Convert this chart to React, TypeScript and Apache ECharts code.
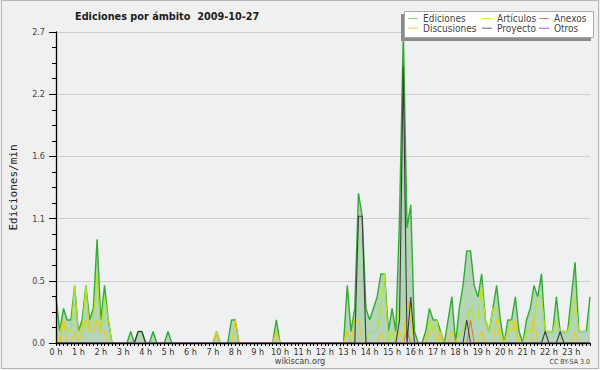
import React, { useEffect, useRef } from "react";
import * as echarts from "echarts";

// 10-minute slots, 0:00 .. 23:50
const times: string[] = [];
for (let h = 0; h < 24; h++) {
  for (let m = 0; m < 60; m += 10) times.push(`${h}:${m < 10 ? "0" + m : m}`);
}

// Ediciones (total), edits/min, one row per hour (6 x 10 min)
const ediciones = [
  0.4, 0.1, 0.3, 0.2, 0.2, 0.5,
  0.1, 0.2, 0.5, 0.2, 0.3, 0.9,
  0.2, 0.5, 0.2, 0, 0, 0,
  0, 0, 0.1, 0, 0.1, 0.1,
  0, 0, 0.1, 0, 0, 0,
  0.1, 0, 0, 0, 0, 0,
  0, 0, 0, 0, 0, 0,
  0, 0.1, 0, 0, 0, 0.2,
  0.2, 0, 0, 0, 0, 0,
  0, 0, 0, 0, 0, 0.2,
  0, 0, 0, 0, 0, 0,
  0, 0, 0, 0, 0, 0,
  0, 0, 0, 0, 0, 0,
  0.5, 0.1, 0.3, 1.3, 1.1, 0.3,
  0.2, 0.3, 0.4, 0.6, 0.6, 0.1,
  0.3, 0.1, 1.1, 2.7, 1.0, 1.2,
  0.1, 0, 0, 0.1, 0.3, 0.2,
  0.2, 0.1, 0, 0.2, 0.4, 0,
  0.3, 0.5, 0.8, 0.8, 0.5, 0.4,
  0.6, 0.2, 0.1, 0.3, 0.5, 0.2,
  0, 0.2, 0.2, 0.4, 0.1, 0,
  0.2, 0.3, 0.5, 0.4, 0.6, 0.1,
  0.1, 0.1, 0.4, 0.1, 0.1, 0.1,
  0.4, 0.7, 0.1, 0.1, 0.1, 0.4,
];

const articulos = [
  0.1, 0.1, 0.2, 0.1, 0.1, 0.5,
  0.1, 0.1, 0.5, 0.1, 0.2, 0.6,
  0.1, 0.4, 0.2, 0, 0, 0,
  0, 0, 0, 0, 0, 0,
  0, 0, 0, 0, 0, 0,
  0, 0, 0, 0, 0, 0,
  0, 0, 0, 0, 0, 0,
  0, 0.1, 0, 0, 0, 0,
  0, 0, 0, 0, 0, 0,
  0, 0, 0, 0, 0, 0.1,
  0, 0, 0, 0, 0, 0,
  0, 0, 0, 0, 0, 0,
  0, 0, 0, 0, 0, 0,
  0.1, 0, 0, 0, 0, 0,
  0.1, 0.1, 0.1, 0.3, 0.6, 0,
  0.1, 0, 0.3, 0.3, 0.3, 0.3,
  0, 0, 0, 0, 0.2, 0.1,
  0.2, 0, 0, 0, 0, 0,
  0.1, 0.1, 0.2, 0.3, 0.2, 0.2,
  0.5, 0.2, 0.1, 0.3, 0.3, 0.1,
  0, 0.1, 0.2, 0.1, 0, 0,
  0.1, 0.1, 0.2, 0.4, 0.4, 0.1,
  0.1, 0.1, 0.2, 0.1, 0.1, 0.1,
  0.2, 0.4, 0.1, 0.1, 0.1, 0.1,
];

const anexos = [
  0, 0, 0, 0, 0, 0,
  0, 0, 0, 0, 0, 0,
  0, 0, 0, 0, 0, 0,
  0, 0, 0, 0, 0, 0,
  0, 0, 0, 0, 0, 0,
  0, 0, 0, 0, 0, 0,
  0, 0, 0, 0, 0, 0,
  0, 0, 0, 0, 0, 0,
  0, 0, 0, 0, 0, 0,
  0, 0, 0, 0, 0, 0,
  0, 0, 0, 0, 0, 0,
  0, 0, 0, 0, 0, 0,
  0, 0, 0, 0, 0, 0,
  0, 0, 0, 0, 0, 0,
  0, 0, 0, 0, 0, 0,
  0, 0, 0, 0, 0.1, 0,
  0, 0, 0, 0, 0, 0,
  0, 0, 0, 0, 0, 0,
  0, 0, 0, 0.2, 0, 0,
  0, 0, 0, 0, 0, 0,
  0, 0, 0, 0, 0, 0,
  0, 0, 0, 0, 0, 0,
  0, 0, 0, 0, 0, 0,
  0, 0, 0, 0, 0, 0,
];

const discusiones = [
  0.1, 0, 0.2, 0, 0, 0.1,
  0, 0.1, 0.2, 0.1, 0.1, 0.2,
  0.1, 0.1, 0, 0, 0, 0,
  0, 0, 0, 0, 0, 0,
  0, 0, 0, 0, 0, 0,
  0, 0, 0, 0, 0, 0,
  0, 0, 0, 0, 0, 0,
  0, 0.1, 0, 0, 0, 0,
  0.2, 0, 0, 0, 0, 0,
  0, 0, 0, 0, 0, 0.1,
  0, 0, 0, 0, 0, 0,
  0, 0, 0, 0, 0, 0,
  0, 0, 0, 0, 0, 0,
  0.1, 0, 0.2, 0.2, 0, 0,
  0, 0, 0, 0.1, 0, 0,
  0, 0, 0.1, 0, 0.4, 0.2,
  0, 0, 0, 0, 0.1, 0.1,
  0, 0.1, 0, 0, 0.1, 0,
  0, 0, 0, 0, 0, 0,
  0.1, 0, 0, 0, 0.2, 0,
  0, 0.1, 0.1, 0.2, 0, 0,
  0, 0, 0.2, 0, 0, 0,
  0, 0, 0, 0, 0, 0,
  0, 0.1, 0, 0, 0, 0,
];

const proyecto = [
  0, 0, 0, 0, 0, 0,
  0, 0, 0, 0, 0, 0,
  0, 0, 0, 0, 0, 0,
  0, 0, 0, 0, 0.1, 0.1,
  0, 0, 0, 0, 0, 0,
  0, 0, 0, 0, 0, 0,
  0, 0, 0, 0, 0, 0,
  0, 0, 0, 0, 0, 0,
  0, 0, 0, 0, 0, 0,
  0, 0, 0, 0, 0, 0,
  0, 0, 0, 0, 0, 0,
  0, 0, 0, 0, 0, 0,
  0, 0, 0, 0, 0, 0,
  0, 0, 0, 1.1, 1.1, 0,
  0, 0, 0, 0, 0, 0,
  0, 0, 0.2, 2.4, 0, 0.4,
  0, 0, 0, 0, 0, 0,
  0, 0, 0, 0, 0, 0,
  0, 0, 0.2, 0, 0, 0,
  0, 0, 0, 0, 0, 0,
  0, 0, 0, 0, 0, 0,
  0, 0, 0, 0, 0, 0.1,
  0, 0, 0, 0.1, 0, 0,
  0, 0, 0, 0, 0, 0,
];

const otros = new Array(144).fill(0);

const yTicks = { min: 0, max: 2.7, step: 0.54 };

const COND = "'DejaVu Sans Condensed', 'DejaVu Sans', sans-serif";

export default function App() {
  const ref = useRef<HTMLDivElement>(null);

  useEffect(() => {
    document.body.style.margin = "0";
    const chart = echarts.init(ref.current!, null, { renderer: "svg" });

    const legendItems = [
      { name: "Ediciones", color: "#80d080", left: 408, top: 13.5 },
      { name: "Artículos", color: "#c4ee3a", left: 482, top: 13.5 },
      { name: "Anexos", color: "#f08050", left: 539, top: 13.5 },
      { name: "Discusiones", color: "#f6d040", left: 408, top: 23.2 },
      { name: "Proyecto", color: "#606060", left: 482, top: 23.2 },
      { name: "Otros", color: "#a050f0", left: 539, top: 23.2 },
    ];

    const lineSeries = (name: string, data: number[], color: string, z: number, width = 1.1) => ({
      name,
      type: "line",
      data,
      symbol: "none",
      showSymbol: false,
      silent: true,
      z,
      lineStyle: { color, width },
      itemStyle: { color },
    });

    const option: any = {
      animation: false,
      backgroundColor: "#f0f0f0",
      textStyle: { fontFamily: COND },
      title: {
        text: "Ediciones por ámbito  2009-10-27",
        left: 75,
        top: 11,
        padding: 0,
        textStyle: { fontFamily: COND, fontWeight: "bold", fontSize: 10.8, color: "#1c1c1c" },
      },
      grid: {
        left: 46,
        right: 10,
        top: 32,
        bottom: 27,
        show: true,
        backgroundColor: "#eef0f2",
        borderWidth: 0,
      },
      legend: legendItems.map((it) => ({
        data: [{ name: it.name, itemStyle: { color: it.color } }],
        left: it.left,
        top: it.top,
        padding: 0,
        icon: "rect",
        itemWidth: 10,
        itemHeight: 1,
        selectedMode: false,
        z: 6,
        textStyle: { fontFamily: COND, fontSize: 10, color: "#444" },
      })),
      xAxis: {
        type: "category",
        data: times,
        boundaryGap: false,
        z: 10,
        axisLine: { lineStyle: { color: "#000", width: 1.3 } },
        axisTick: { interval: 0, length: 3, lineStyle: { color: "#000" } },
        axisLabel: {
          interval: 5,
          formatter: (_v: string, i: number) => `${i / 6} h`,
          fontSize: 9,
          color: "#333",
          margin: 4,
          fontFamily: COND,
        },
        splitLine: { show: false },
      },
      yAxis: [
        {
          type: "value",
          min: yTicks.min,
          max: yTicks.max,
          interval: yTicks.step,
          z: 10,
          name: "Ediciones/min",
          nameLocation: "middle",
          nameGap: 37,
          nameTextStyle: { fontFamily: "'DejaVu Sans Mono', monospace", fontSize: 11, color: "#222" },
          axisLine: { show: true, lineStyle: { color: "#000", width: 1.3 } },
          axisTick: { show: true, length: 7, lineStyle: { color: "#000" } },
          minorTick: { show: true, splitNumber: 4, length: 4, lineStyle: { color: "#000" } },
          axisLabel: {
            formatter: (v: number) => v.toFixed(1),
            fontSize: 9,
            color: "#444",
            margin: 11,
            fontFamily: COND,
          },
          splitLine: { show: false },
        },
        {
          type: "value",
          min: yTicks.min,
          max: yTicks.max,
          interval: yTicks.step,
          position: "left",
          z: 0,
          axisLine: { show: false },
          axisTick: { show: false },
          axisLabel: { show: false },
          splitLine: { show: true, lineStyle: { color: "#cdcdcd", width: 1 } },
        },
      ],
      series: [
        {
          ...lineSeries("Ediciones", ediciones, "#34aa34", 2, 1.4),
          areaStyle: { color: "rgba(60,160,60,0.47)" },
        },
        lineSeries("Artículos", articulos, "#b6e61c", 3),
        lineSeries("Anexos", anexos, "#f07030", 4),
        lineSeries("Discusiones", discusiones, "#f0c820", 4),
        lineSeries("Proyecto", proyecto, "#3c3c3c", 5),
        lineSeries("Otros", otros, "#a050f0", 5),
      ],
      graphic: [
        {
          type: "rect",
          z: 1,
          silent: true,
          shape: { x: 1.5, y: 0.5, width: 597, height: 368 },
          style: { fill: "none", stroke: "#b4b4b4", lineWidth: 1 },
        },
        {
          type: "rect",
          z: 4,
          silent: true,
          shape: { x: 401, y: 14, width: 190, height: 27 },
          style: { fill: "#8c8c8c" },
        },
        {
          type: "rect",
          z: 5,
          silent: true,
          shape: { x: 404.5, y: 11.5, width: 189, height: 26 },
          style: { fill: "#ffffff", stroke: "#a8a8a8", lineWidth: 1 },
        },
        {
          type: "text",
          z: 5,
          silent: true,
          x: 300,
          y: 361,
          style: {
            text: "wikiscan.org",
            fontFamily: COND,
            fontSize: 9,
            fill: "#444",
            align: "center",
            verticalAlign: "middle",
          },
        },
        {
          type: "text",
          z: 5,
          silent: true,
          x: 590,
          y: 362,
          style: {
            text: "CC BY-SA 3.0",
            fontFamily: COND,
            fontSize: 7,
            fill: "#444",
            align: "right",
            verticalAlign: "middle",
          },
        },
      ],
    };

    chart.setOption(option);
    return () => chart.dispose();
  }, []);

  return (
    <div
      ref={ref}
      style={{ position: "absolute", left: 0, top: 0, width: 600, height: 370 }}
    />
  );
}
